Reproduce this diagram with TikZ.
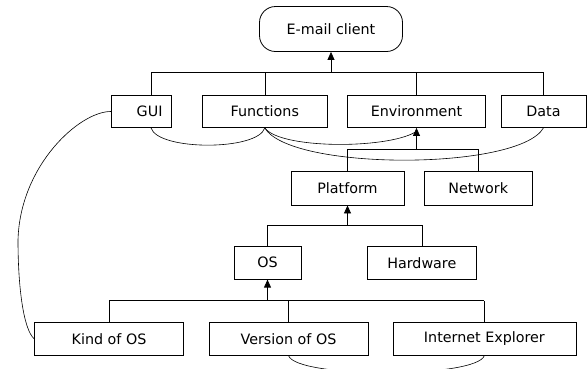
\documentclass[tikz,border=0pt]{standalone}
\usepackage{fontspec}
\setmainfont{DejaVu Sans}
\usetikzlibrary{arrows.meta}

\begin{document}
\begin{tikzpicture}[x=1pt,y=-1pt,font=\fontsize{14.3}{16}\selectfont,
    box/.style={draw,line width=0.8pt,inner sep=0pt,minimum height=#1},
    box/.default=32pt,
    link/.style={line width=0.6pt},
    arr/.style={line width=0.8pt,-{Triangle[length=8pt,width=7pt]}}]
    \useasboundingbox (0,0) rectangle (587,368);
    \node[draw,line width=0.8pt,rounded corners=16pt,minimum width=143pt,minimum height=45pt] (client) at (331,29) {E-mail client};
    \node[box,minimum width=60pt,text width=42pt,align=right,inner xsep=9pt] (gui) at (141.5,111.5) {GUI};
    \foreach \n/\x/\w/\txt in {func/264.8/124.5/Functions, env/416.5/138/Environment, data/543.5/85/Data}
        {\node[box,minimum width=\w pt] (\n) at (\x,111.5) {\txt};}
    \foreach \n/\x/\w/\txt in {platform/347.5/113/Platform, network/478.2/108/Network}
        {\node[box=34pt,minimum width=\w pt] (\n) at (\x,188) {\txt};}
    \foreach \n/\x/\w/\txt in {os/267.5/67/OS, hw/421.8/108.4/Hardware}
        {\node[box=33pt,minimum width=\w pt] (\n) at (\x,262.7) {\txt};}
    \foreach \n/\x/\w/\txt in {kind/109/149/Kind of OS, version/288.5/159/Version of OS, ie/484.4/183/Internet Explorer}
        {\node[box=32.7pt,minimum width=\w pt] (\n) at (\x,338.7) {\txt};}

    % buses
    \coordinate (guitap) at ([xshift=9.5pt]gui.north);
    \coordinate (top) at (331,72.3);
    \draw[line width=1.5pt] (guitap |- top) -- (data.north |- top);
    \foreach \n in {guitap,func.north,env.north,data.north} {\draw[link] (\n) -- (\n |- top);}
    \draw[arr] (top) -- (client);

    \coordinate (mid) at (416.5,149.3);
    \draw[link] (platform.north |- mid) -- (network.north |- mid);
    \foreach \n in {platform,network} {\draw[link] (\n.north) -- (\n.north |- mid);}
    \draw[arr] (mid) -- (env.south);

    \coordinate (low) at (347.5,225);
    \draw[link] (os.north |- low) -- (hw.north |- low);
    \foreach \n in {os,hw} {\draw[link] (\n.north) -- (\n.north |- low);}
    \draw[arr] (low) -- (platform.south);

    \coordinate (bottom) at (267.5,300.5);
    \draw[link] (kind.north |- bottom) -- (ie.north |- bottom);
    \foreach \n in {kind,version,ie} {\draw[link] (\n.north) -- (\n.north |- bottom);}
    \draw[arr] (bottom) -- (os.south);

    % arcs
    \draw[link] (guitap |- gui.south) .. controls +(7,23) and +(-7,23) .. (func.south);
    \draw[link] (func.south) .. controls +(15,21) and +(-30,17) .. ([xshift=-1.5pt,yshift=-4.4pt]env.south);
    \draw[link] (func.south) .. controls +(25,43) and +(-25,43) .. (data.south);
    \draw[link] (version.south) .. controls +(7,23) and +(-7,23) .. (ie.south);
    \draw[link] (gui.west) .. controls (80,111) and (20,165) .. (18,240) .. controls (18,290) and (24,330) .. (kind.west);
\end{tikzpicture}
\end{document}
